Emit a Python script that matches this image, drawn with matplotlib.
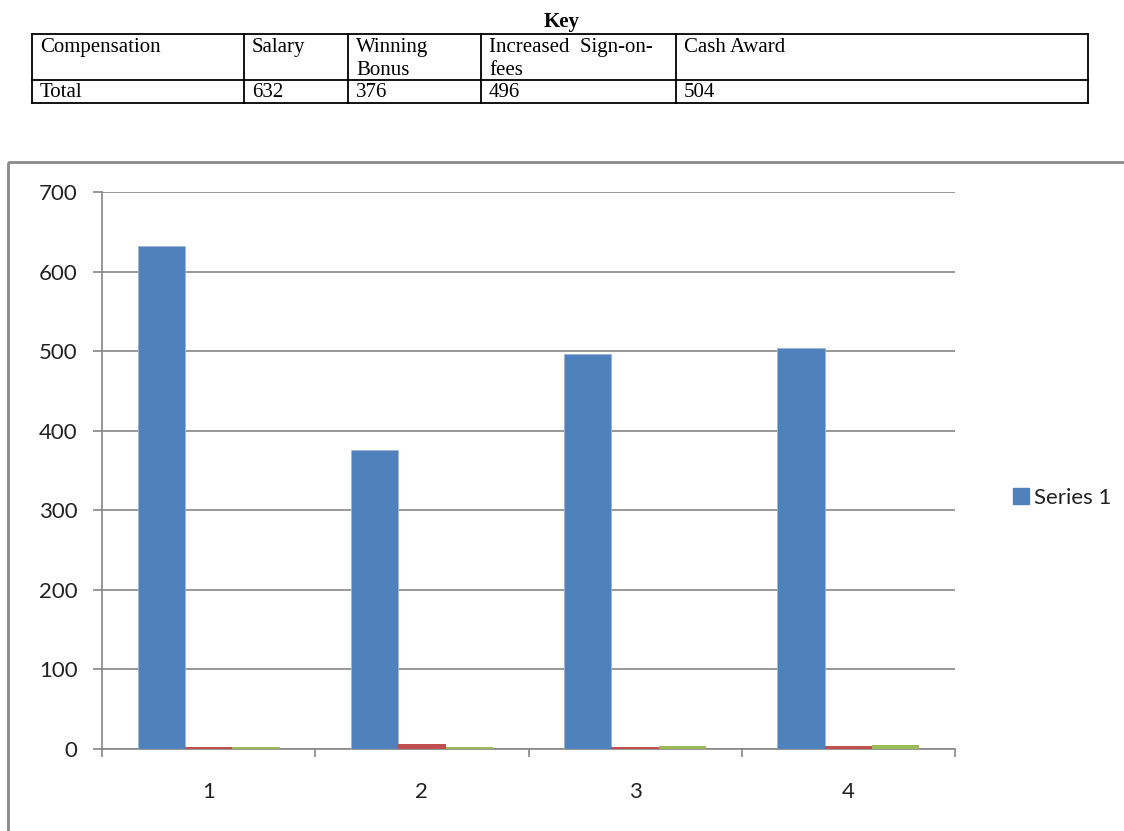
import matplotlib.pyplot as plt
from matplotlib.patches import Rectangle
from matplotlib.lines import Line2D
import numpy as np

# key table contents
key_header = ['Compensation', 'Salary', 'Winning\nBonus', 'Increased  Sign-on-\nfees', 'Cash Award']
key_totals = ['Total', '632', '376', '496', '504']

# chart data
categories = ['1', '2', '3', '4']
series1 = [632, 376, 496, 504]
series2 = [2, 6, 2, 4]
series3 = [2, 2, 4, 5]

blue = '#4F81BD'
red = '#C0504D'
green = '#9BBB59'
grid_grey = '#868686'

fig = plt.figure(figsize=(11.24, 8.31), dpi=100)

# page layer in pixel units for the table and the chart frame
page = fig.add_axes([0, 0, 1, 1])
page.set_xlim(0, 1124)
page.set_ylim(831, 0)
page.axis('off')

serif = 'Liberation Serif'
page.text(562, 22, 'Key', ha='center', va='center', fontsize=15,
          fontweight='bold', family=serif)

col_edges = [32, 244, 348, 481, 676, 1088]
row_edges = [34, 80, 103]
for x in col_edges:
    page.plot([x, x], [row_edges[0], row_edges[-1]], color='black', lw=1.3)
for y in row_edges:
    page.plot([col_edges[0], col_edges[-1]], [y, y], color='black', lw=1.3)

for i in range(len(key_header)):
    page.text(col_edges[i] + 8, row_edges[0] + 4, key_header[i], ha='left', va='top',
              fontsize=15, family=serif, linespacing=1.3)
    page.text(col_edges[i] + 8, (row_edges[1] + row_edges[2]) / 2 + 1, key_totals[i],
              ha='left', va='center', fontsize=15, family=serif)

# chart area border (runs off the right and bottom edges)
page.add_patch(Rectangle((8, 162), 1200, 800, fill=False, edgecolor='#8a8a8a', lw=2))

ax = fig.add_axes([102 / 1124, (831 - 749) / 831, 853 / 1124, 557 / 831])
x = np.arange(1, len(categories) + 1)
w = 0.222
ax.bar(x - w, series1, w, color=blue, edgecolor='#9db6d9', lw=0.6, label='Series 1', zorder=3)
ax.bar(x, series2, w, color=red, zorder=3)
ax.bar(x + w, series3, w, color=green, zorder=3)

ax.set_xlim(0.5, 4.5)
ax.set_ylim(0, 700)
ax.set_yticks(range(0, 701, 100))
ax.yaxis.grid(True, color=grid_grey, lw=1.2)
ax.set_axisbelow(True)

ax.set_xticks(x)
ax.set_xticklabels(categories)
ax.set_xticks(np.arange(0.5, 4.6, 1), minor=True)
ax.tick_params(axis='x', which='major', length=0, pad=24)
ax.tick_params(axis='x', which='minor', length=6, width=1.2, color=grid_grey, direction='out')
ax.tick_params(axis='y', length=6.5, width=1.2, color=grid_grey, pad=11)

chart_font = 'Lato'
for lab in ax.get_xticklabels() + ax.get_yticklabels():
    lab.set_family(chart_font)
    lab.set_fontsize(16)
    lab.set_color('#222222')

for side in ['top', 'right']:
    ax.spines[side].set_visible(False)
ax.spines['left'].set_color(grid_grey)
ax.spines['bottom'].set_color(grid_grey)
ax.spines['left'].set_linewidth(1.2)
ax.spines['bottom'].set_linewidth(1.2)

handle = Line2D([], [], marker='s', ls='', color=blue, markersize=11)
fig.legend([handle], ['Series 1'], loc='center left',
           bbox_to_anchor=(990 / 1124, 1 - 498 / 831), frameon=False,
           prop={'family': chart_font, 'size': 16}, handletextpad=0.1,
           handlelength=1.0, labelcolor='#222222')

fig.savefig('out.png', dpi=100)
